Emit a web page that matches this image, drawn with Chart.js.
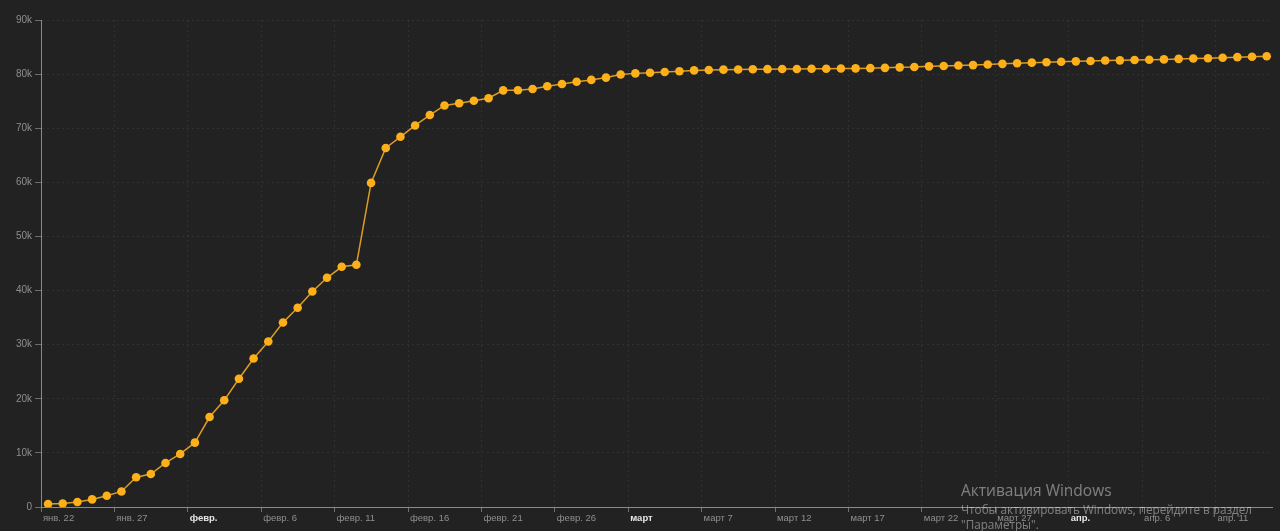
<!doctype html>
<html>
<head>
<meta charset="utf-8">
<title>Confirmed</title>
<script src="https://cdn.jsdelivr.net/npm/chart.js@4/dist/chart.umd.min.js"></script>
<style>
  html, body { margin: 0; padding: 0; background: #222222; overflow: hidden; }
  #container { position: relative; width: 1280px; height: 531px; }
  #wm { position: absolute; left: 961px; top: 481px; color: rgba(255,255,255,0.42);
        font-family: "Open Sans", "Liberation Sans", sans-serif; pointer-events: none; }
  #wm .t1 { font-size: 15.5px; line-height: 18px; }
  #wm .t2 { font-size: 11.7px; line-height: 15px; margin-top: 3px; }
</style>
</head>
<body>
<div id="container">
  <canvas id="canvas" width="1280" height="531"></canvas>
  <div id="wm"><div class="t1">Активация Windows</div><div class="t2">Чтобы активировать Windows, перейдите в раздел<br>"Параметры".</div></div>
</div>
<script>
// days since 22 Jan 2020
var confirmed = [
  548, 643, 920, 1406, 2075, 2877, 5509, 6087, 8141, 9802,
  11891, 16630, 19716, 23707, 27440, 30587, 34110, 36814, 39829, 42354,
  44386, 44759, 59895, 66358, 68413, 70513, 72434, 74211, 74619, 75077,
  75550, 77001, 77022, 77241, 77754, 78166, 78600, 78928, 79356, 79932,
  80136, 80261, 80386, 80537, 80690, 80770, 80823, 80860, 80887, 80921,
  80932, 80945, 80977, 81003, 81033, 81058, 81102, 81156, 81250, 81305,
  81435, 81498, 81591, 81661, 81782, 81897, 81999, 82122, 82198, 82279,
  82361, 82432, 82511, 82543, 82602, 82665, 82718, 82809, 82883, 82941,
  83014, 83134, 83213, 83306
];
var tickDays = [0, 5, 10, 15, 20, 25, 30, 35, 40, 45, 50, 55, 60, 65, 70, 75, 80];
var tickLabels = ['янв. 22', 'янв. 27', 'февр.', 'февр. 6', 'февр. 11', 'февр. 16', 'февр. 21', 'февр. 26',
  'март', 'март 7', 'март 12', 'март 17', 'март 22', 'март 27', 'апр.', 'апр. 6', 'апр. 11'];
var yTicks = [0, 10000, 20000, 30000, 40000, 50000, 60000, 70000, 80000, 90000];

var tzShift = 0.48; // ticks sit at local midnight, points half a day later

var points = confirmed.map(function (v, i) { return { x: i, y: v }; });

function isMonth(lbl) { return !/\d/.test(lbl); }

var config = {
  type: 'line',
  data: {
    datasets: [{
      label: 'confirmed',
      data: points,
      borderColor: '#dc9d22',
      borderWidth: 1.5,
      backgroundColor: '#fdb01a',
      pointBackgroundColor: '#fdb01a',
      pointBorderColor: '#fdb01a',
      pointBorderWidth: 0,
      pointRadius: 4.3,
      tension: 0
    }]
  },
  options: {
    responsive: false,
    animation: false,
    layout: { padding: { top: 20, right: 8, left: 0, bottom: 0 } },
    plugins: { legend: { display: false }, tooltip: { enabled: false } },
    scales: {
      x: {
        type: 'linear',
        min: -tzShift,
        max: 83.36,
        afterBuildTicks: function (s) {
          s.ticks = tickDays.map(function (d) { return { value: d - tzShift }; });
        },
        afterFit: function (s) { s.height = 24; },
        grid: { color: 'rgba(255,255,255,0.07)', tickColor: '#6f6f6f', tickLength: 5, lineWidth: 1 },
        border: { color: '#8a8a8a', width: 1, dash: [2, 3] },
        ticks: {
          autoSkip: false,
          maxRotation: 0,
          align: 'start',
          padding: 1,
          // leading thin space nudges label right of its tick like the original
          callback: function (v, i) { return '\u2009' + tickLabels[i]; },
          color: function (c) { return isMonth(tickLabels[c.index] || '') ? '#e6e6e6' : '#8f8f8f'; },
          font: function (c) {
            return { family: 'Liberation Sans, Arial, sans-serif', size: 9.5,
              weight: isMonth(tickLabels[c.index] || '') ? 'bold' : 'normal' };
          }
        }
      },
      y: {
        min: 0,
        max: 90000,
        afterBuildTicks: function (s) {
          s.ticks = yTicks.map(function (v) { return { value: v }; });
        },
        afterFit: function (s) { s.width = 41; },
        grid: { color: 'rgba(255,255,255,0.07)', tickColor: '#6f6f6f', tickLength: 6 },
        border: { color: '#8a8a8a', width: 1, dash: [2, 3] },
        ticks: {
          padding: 3,
          color: '#8f8f8f',
          font: { family: 'Liberation Sans, Arial, sans-serif', size: 10 },
          callback: function (v) { return v === 0 ? '0' : (v / 1000) + 'k'; }
        }
      }
    }
  }
};

window.myChart = new Chart(document.getElementById('canvas'), config);
</script>
</body>
</html>
